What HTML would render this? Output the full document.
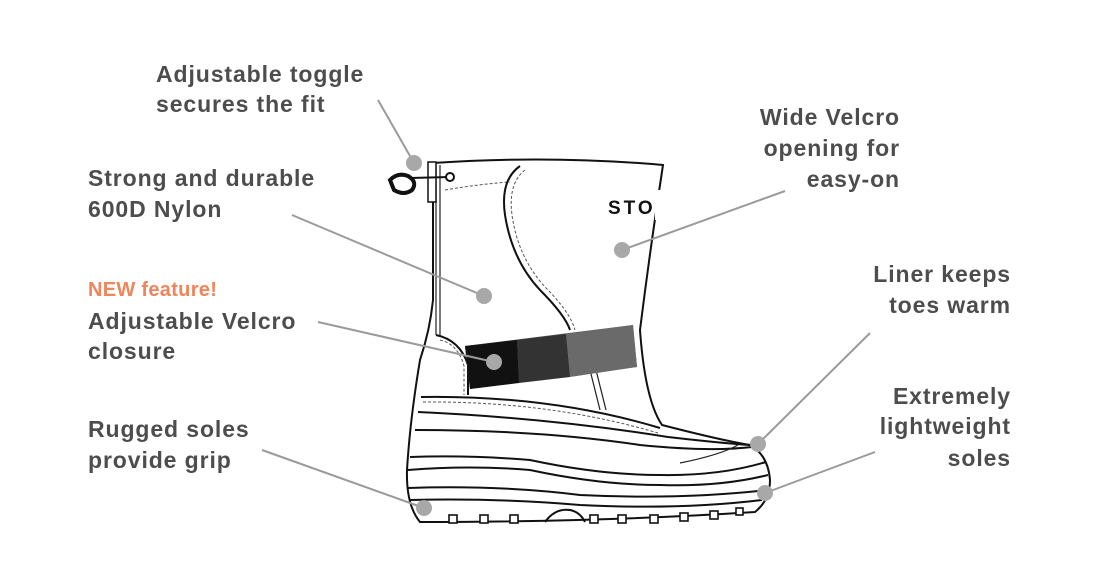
<!DOCTYPE html>
<html><head><style>
html,body{margin:0;padding:0;background:#fff;width:1100px;height:586px;overflow:hidden}
svg{display:block}
.t{font-family:"Liberation Sans",sans-serif;font-weight:bold;font-size:23px;letter-spacing:0.9px;fill:#4d4d4d}
.r{text-anchor:end}
.bo{fill:none;stroke:#111;stroke-width:2}
.th{fill:none;stroke:#222;stroke-width:1.2}
.ds{fill:none;stroke:#555;stroke-width:1;stroke-dasharray:3 2}
.ln{stroke:#9a9a9a;stroke-width:2}
.dt{fill:#a8a8a8}
</style></head><body>
<svg width="1100" height="586" viewBox="0 0 1100 586">
<g>
<path class="bo" fill="#fff" d="M433,163 Q550,155 663,165 Q650,250 640,330 Q645,400 662,425 Q720,440 750,445 Q768,455 770,480 Q770,500 755,512 Q600,522 420,522 Q406,505 407,470 Q410,420 420,360 Q430,330 433,300 Z"/>
<path class="th" d="M440,165 L440,335"/>
<path class="th" d="M436,165 L436,335"/>
<path class="ds" d="M445,190 Q480,184 510,182"/>
<path class="bo" d="M520,166 Q500,180 505,215 Q512,260 540,290 Q565,315 570,330"/>
<path class="ds" d="M525,170 Q508,183 512,215 Q518,258 546,288 Q570,312 575,330"/>
<path class="th" d="M590,370 L600,410"/>
<path class="th" d="M596,370 L606,410"/>
<path class="bo" d="M436,335 Q460,340 468,365 L468,395"/>
<path class="ds" d="M440,340 Q458,344 464,366 L464,395"/>
<path d="M465,346 L633,325 L637,367 L470,389 Z" fill="#555"/>
<path d="M465,346 L517,340 L519,383 L470,389 Z" fill="#111"/>
<path d="M517,340 L566,334 L570,377 L519,383 Z" fill="#333"/>
<path d="M566,334 L633,325 L637,367 L570,377 Z" fill="#6a6a6a"/>
<path class="bo" d="M421,397 Q550,395 660,428"/>
<path class="ds" d="M423,402 Q550,401 658,433"/>
<path class="bo" d="M418,412 Q550,418 668,437 Q720,443 750,445"/>
<path class="bo" d="M415,430 Q540,430 640,445 Q710,452 752,447"/>
<path class="th" d="M680,463 Q720,455 738,445"/>
<path class="bo" d="M410,457 Q470,455 530,460 Q600,475 660,475 Q720,476 766,462"/>
<path class="bo" d="M408,470 Q470,465 530,470 Q600,485 660,485 Q720,487 768,475"/>
<path class="bo" d="M408,488 Q500,485 580,495 Q680,500 768,490"/>
<path class="bo" d="M410,500 Q500,498 580,505 Q680,510 762,500"/>
<path class="bo" d="M545,522 Q555,508 570,510 Q580,512 585,522"/>
<g fill="#fff" stroke="#111" stroke-width="1.6">
<rect x="449" y="515" width="8" height="8"/><rect x="480" y="515" width="8" height="8"/><rect x="510" y="515" width="8" height="8"/>
<rect x="590" y="515" width="8" height="8"/><rect x="618" y="515" width="8" height="8"/><rect x="650" y="515" width="8" height="8"/><rect x="680" y="513" width="8" height="8"/><rect x="710" y="511" width="8" height="8"/><rect x="736" y="508" width="7" height="7"/>
</g>
<path d="M390,180 Q398,172 408,176 Q418,182 412,190 Q404,196 394,190 Z" fill="none" stroke="#111" stroke-width="4"/>
<rect x="428" y="162" width="8" height="40" fill="#fff" stroke="#111" stroke-width="1.5"/>
<path d="M410,178 L450,177" stroke="#111" stroke-width="2"/>
<circle cx="450" cy="177" r="4" fill="#fff" stroke="#111" stroke-width="2"/>
<text x="608" y="214" font-family="Liberation Sans,sans-serif" font-weight="bold" font-size="19" letter-spacing="3" fill="#111">STO</text>
<rect x="655" y="190" width="20" height="30" fill="#fff"/>
</g>
<line class="ln" x1="378" y1="100" x2="414" y2="163"/>
<line class="ln" x1="292" y1="215" x2="484" y2="296"/>
<line class="ln" x1="318" y1="322" x2="494" y2="362"/>
<line class="ln" x1="785" y1="191" x2="622" y2="250"/>
<line class="ln" x1="870" y1="333" x2="758" y2="444"/>
<line class="ln" x1="875" y1="452" x2="765" y2="493"/>
<line class="ln" x1="262" y1="450" x2="424" y2="508"/>
<g class="dt">
<circle cx="414" cy="163" r="8"/><circle cx="484" cy="296" r="8"/><circle cx="494" cy="362" r="8"/><circle cx="622" cy="250" r="8"/><circle cx="758" cy="444" r="8"/><circle cx="765" cy="493" r="8"/><circle cx="424" cy="508" r="8"/>
</g>
<text class="t" x="156" y="82">Adjustable toggle</text>
<text class="t" x="156" y="112">secures the fit</text>
<text class="t" x="88" y="186">Strong and durable</text>
<text class="t" x="88" y="217">600D Nylon</text>
<text x="88" y="296" font-family="Liberation Sans,sans-serif" font-weight="bold" font-size="20" letter-spacing="0.3" fill="#f0845a">NEW feature!</text>
<text class="t" x="88" y="329">Adjustable Velcro</text>
<text class="t" x="88" y="359">closure</text>
<text class="t" x="88" y="437">Rugged soles</text>
<text class="t" x="88" y="468">provide grip</text>
<text class="t r" x="900" y="125">Wide Velcro</text>
<text class="t r" x="900" y="156">opening for</text>
<text class="t r" x="900" y="187">easy-on</text>
<text class="t r" x="1011" y="282">Liner keeps</text>
<text class="t r" x="1011" y="313">toes warm</text>
<text class="t r" x="1011" y="404">Extremely</text>
<text class="t r" x="1011" y="434">lightweight</text>
<text class="t r" x="1011" y="466">soles</text>
</svg>
</body></html>
